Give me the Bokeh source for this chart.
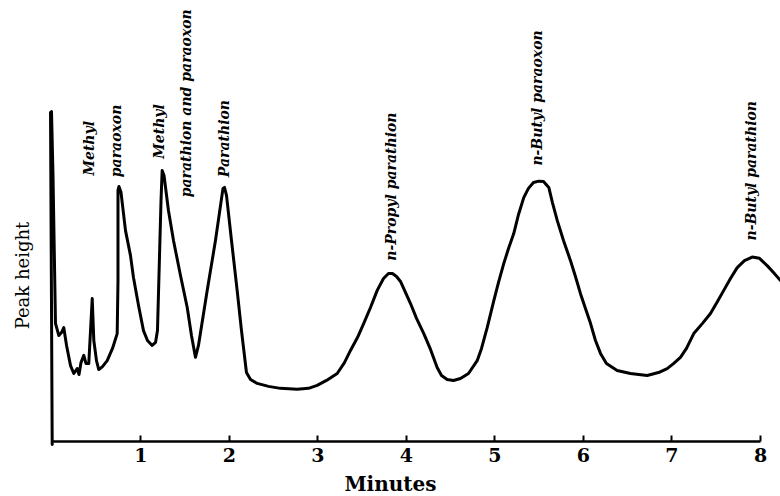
import math
from bokeh.plotting import figure
from bokeh.models import Range1d, FixedTicker
from bokeh.core.properties import value
from bokeh.embed import file_html
from bokeh.resources import INLINE

# Chromatogram trace (minutes, peak height in arbitrary units)
minutes = [0.000, -0.019, -0.008, 0.009, 0.037, 0.075, 0.105, 0.131, 0.162, 0.207,
           0.244, 0.282, 0.303, 0.325, 0.357, 0.382, 0.413, 0.452, 0.470, 0.500,
           0.526, 0.568, 0.621, 0.681, 0.734, 0.743, 0.743, 0.754, 0.777, 0.828,
           0.884, 0.918, 0.975, 1.031, 1.076, 1.129, 1.167, 1.189, 1.229, 1.242,
           1.263, 1.313, 1.370, 1.449, 1.525, 1.573, 1.618, 1.652, 1.751, 1.844,
           1.929, 1.946, 1.969, 2.025, 2.089, 2.138, 2.194, 2.240, 2.315, 2.443,
           2.578, 2.767, 2.895, 2.993, 3.098, 3.219, 3.301, 3.369, 3.448, 3.519,
           3.595, 3.671, 3.742, 3.798, 3.843, 3.889, 3.934, 3.990, 4.047, 4.115,
           4.197, 4.273, 4.348, 4.397, 4.461, 4.532, 4.611, 4.702, 4.800, 4.849,
           4.913, 4.988, 5.041, 5.100, 5.154, 5.213, 5.267, 5.326, 5.379, 5.436,
           5.496, 5.549, 5.609, 5.650, 5.704, 5.775, 5.854, 5.910, 5.967, 6.023,
           6.080, 6.136, 6.193, 6.260, 6.381, 6.531, 6.720, 6.848, 6.946, 7.017,
           7.096, 7.164, 7.246, 7.345, 7.435, 7.514, 7.585, 7.661, 7.737, 7.819,
           7.906, 7.988, 8.075, 8.147, 8.226]
peak_height = [-0.9, 99.7, 100.0, 80.6, 35.8, 32.1, 33.0, 34.5, 29.1, 23.0,
               20.6, 22.1, 20.3, 23.9, 26.1, 23.6, 23.6, 43.3, 30.6, 24.5,
               21.8, 22.7, 24.5, 28.2, 32.7, 48.8, 76.1, 77.3, 75.5, 63.9,
               56.4, 49.7, 41.2, 33.6, 30.6, 29.1, 30.0, 33.6, 73.0, 82.1,
               80.6, 70.0, 60.9, 50.3, 40.6, 32.1, 25.5, 29.1, 45.8, 60.9,
               76.7, 77.0, 74.5, 60.9, 45.8, 33.6, 20.9, 18.8, 17.6, 16.7,
               16.1, 15.8, 16.1, 17.0, 18.5, 20.6, 23.9, 27.6, 31.5, 35.8,
               40.6, 45.8, 49.4, 50.9, 50.9, 50.0, 48.5, 45.2, 41.8, 37.3,
               32.7, 27.9, 22.4, 20.0, 18.8, 18.5, 19.1, 20.6, 24.5, 28.2,
               34.5, 42.7, 48.2, 53.9, 58.5, 63.0, 68.8, 73.9, 76.7, 78.5,
               78.9, 78.8, 77.0, 72.4, 67.0, 60.9, 54.8, 50.0, 44.8, 40.3,
               35.8, 30.6, 26.7, 23.6, 21.5, 20.6, 20.0, 20.9, 22.1, 23.6,
               25.5, 28.2, 32.7, 35.8, 38.8, 42.4, 45.8, 49.4, 52.7, 54.8,
               55.9, 55.5, 53.3, 51.2, 48.8]

tick_minutes = [1, 2, 3, 4, 5, 6, 7, 8]
axis_start = [0]
axis_end = [8]

peak_labels = ["Methyl", "paraoxon", "Methyl", "parathion and paraoxon",
               "Parathion", "n-Propyl parathion", "n-Butyl paraoxon",
               "n-Butyl parathion"]
label_minutes = [0.421, 0.726, 1.201, 1.506, 1.935, 3.832, 5.481, 7.898]
label_heights = [80.6, 80.1, 85.7, 74.0, 80.1, 54.8, 83.6, 60.9]

p = figure(width=780, height=496, x_range=Range1d(-0.584, 8.226),
           y_range=Range1d(-16.67, 133.64), output_backend="svg",
           toolbar_location=None, title=None, min_border=0)
p.min_border_left = 0
p.min_border_right = 0
p.min_border_top = 0
p.min_border_bottom = 0
p.outline_line_color = None
p.grid.visible = False
p.background_fill_color = "white"
p.border_fill_color = "white"

p.yaxis.visible = False

xa = p.xaxis[0]
xa.fixed_location = 0
xa.ticker = FixedTicker(ticks=tick_minutes)
xa.axis_line_color = None
xa.major_tick_in = 6
xa.major_tick_out = 0
xa.major_tick_line_width = 2
xa.major_tick_line_color = "black"
xa.minor_tick_line_color = None
xa.major_label_text_font = "DejaVu Serif"
xa.major_label_text_font_style = "bold"
xa.major_label_text_font_size = "19px"
xa.major_label_text_color = "black"
xa.major_label_standoff = 7
xa.axis_label = "Minutes"
xa.axis_label_text_font = "DejaVu Serif"
xa.axis_label_text_font_style = "bold"
xa.axis_label_text_font_size = "20px"
xa.axis_label_text_color = "black"
xa.axis_label_standoff = 6

# x axis baseline from 0 to 8 minutes
p.segment(x0=axis_start, y0=[0], x1=axis_end, y1=[0], line_color="black",
          line_width=2.5)

# chromatogram trace
p.line(minutes, peak_height, line_color="black", line_width=3,
       line_join="round", line_cap="round")

# peak labels
p.text(x=label_minutes, y=label_heights, text=peak_labels, angle=math.pi / 2,
       text_font=value("DejaVu Serif"), text_font_style="bold italic",
       text_font_size="14px", text_align="left", text_baseline="middle",
       text_color="black")

# y axis title
p.text(x=[-0.335], y=[50.3], text=["Peak height"], angle=math.pi / 2,
       text_font=value("DejaVu Serif"), text_font_size="18px",
       text_align="center", text_baseline="middle", text_color="black")

open("out.html", "w").write(file_html(p, INLINE))
